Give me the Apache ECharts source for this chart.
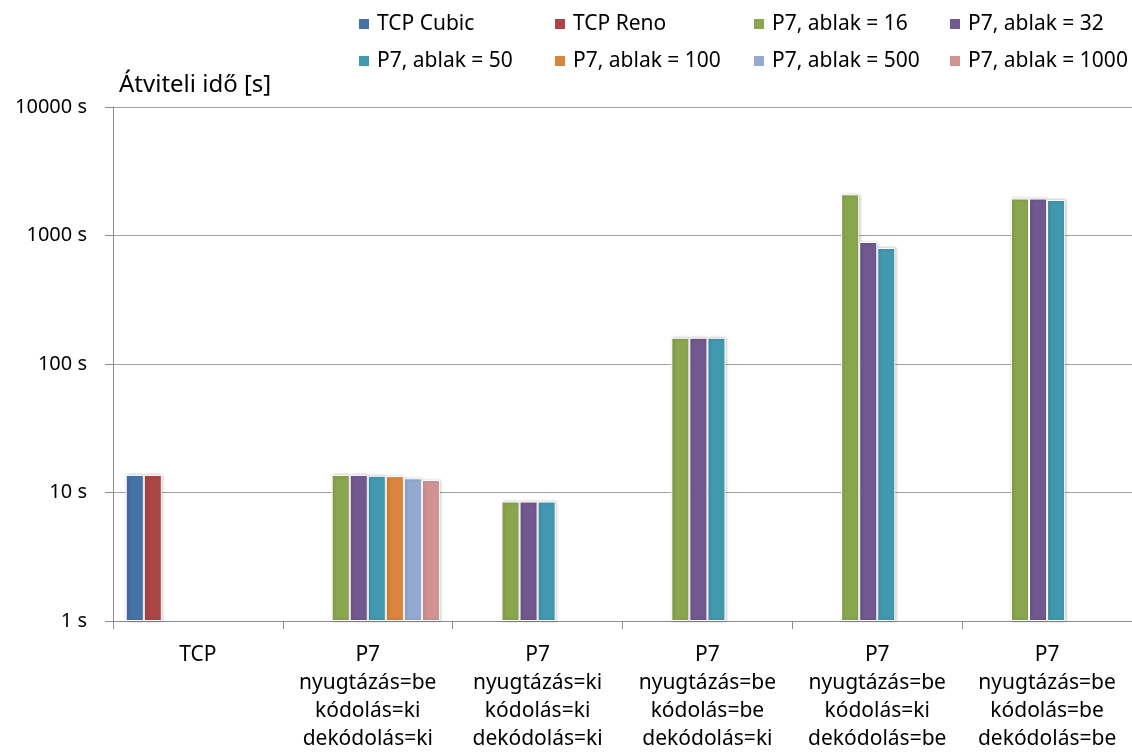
<!DOCTYPE html>
<html>
<head>
<meta charset="utf-8">
<script src="https://cdn.jsdelivr.net/npm/echarts@6/dist/echarts.min.js"></script>
<style>
  html, body { margin: 0; padding: 0; background: #fff; }
  #chart { width: 1132px; height: 754px; }
</style>
</head>
<body>
<div id="chart"></div>
<script>
const categories = [
  'TCP',
  'P7\nnyugtázás=be\nkódolás=ki\ndekódolás=ki',
  'P7\nnyugtázás=ki\nkódolás=ki\ndekódolás=ki',
  'P7\nnyugtázás=be\nkódolás=be\ndekódolás=ki',
  'P7\nnyugtázás=be\nkódolás=ki\ndekódolás=be',
  'P7\nnyugtázás=be\nkódolás=be\ndekódolás=be'
]

const seriesNames = [
  'TCP Cubic', 'TCP Reno', 'P7, ablak = 16', 'P7, ablak = 32',
  'P7, ablak = 50', 'P7, ablak = 100', 'P7, ablak = 500', 'P7, ablak = 1000'
]
const colors = ['#4572A7', '#AA4643', '#89A54E', '#71588F', '#4198AF', '#DB843D', '#93A9CF', '#D19392']

const tcpCubic = [13.7, '-', '-', '-', '-', '-']
const tcpReno = [13.7, '-', '-', '-', '-', '-']
const ablak16 = ['-', 13.7, 8.5, 160, 2090, 1940]
const ablak32 = ['-', 13.7, 8.5, 160, 890, 1940]
const ablak50 = ['-', 13.5, 8.5, 160, 800, 1890]
const ablak100 = ['-', 13.4, '-', '-', '-', '-']
const ablak500 = ['-', 12.9, '-', '-', '-', '-']
const ablak1000 = ['-', 12.5, '-', '-', '-', '-']

const yTicks = [1, 10, 100, 1000, 10000]

const allData = [tcpCubic, tcpReno, ablak16, ablak32, ablak50, ablak100, ablak500, ablak1000]
const FONT = 'Noto Sans'

const chart = echarts.init(document.getElementById('chart'))

// legend laid out as 4 columns of 2 rows
const legendCols = [[0, 4], [1, 5], [2, 6], [3, 7]]
const legendLeft = [357, 553, 752, 948]

const option = {
  animation: false,
  color: colors,
  legend: legendCols.map((idx, i) => ({
    orient: 'vertical',
    left: legendLeft[i],
    top: 10,
    itemGap: 9,
    itemWidth: 12,
    itemHeight: 12,
    icon: 'rect',
    padding: 0,
    data: idx.map(k => seriesNames[k]),
    textStyle: {
      fontFamily: FONT, fontSize: 21, color: '#000',
      lineHeight: 28, padding: [0, 0, 0, 2]
    }
  })),
  grid: { left: 113, right: 0, top: 107, bottom: 133 },
  xAxis: {
    type: 'category',
    data: categories,
    axisLine: { lineStyle: { color: '#8c8c8c', width: 1 } },
    axisTick: { show: true, length: 8, lineStyle: { color: '#8c8c8c' } },
    axisLabel: {
      interval: 0,
      margin: 20,
      fontFamily: FONT,
      fontSize: 21,
      lineHeight: 28,
      color: '#000'
    }
  },
  yAxis: {
    type: 'log',
    logBase: 10,
    min: yTicks[0],
    max: yTicks[yTicks.length - 1],
    name: 'Átviteli idő [s]',
    nameLocation: 'end',
    nameGap: 22,
    nameTextStyle: {
      fontFamily: FONT, fontSize: 24, color: '#000',
      align: 'left', verticalAlign: 'middle', padding: [0, 0, 0, 6]
    },
    axisLine: { show: true, lineStyle: { color: '#8c8c8c', width: 1 } },
    axisTick: { show: true, length: 8, lineStyle: { color: '#8c8c8c' } },
    minorTick: { show: false },
    splitLine: { show: true, lineStyle: { color: '#a0a0a0', width: 1 } },
    axisLabel: {
      margin: 26,
      fontFamily: FONT,
      fontSize: 20,
      color: '#000',
      formatter: v => v + ' s'
    }
  },
  series: seriesNames.map((name, i) => ({
    name: name,
    type: 'bar',
    data: allData[i],
    barGap: '0%',
    barCategoryGap: '15%',
    itemStyle: {
      color: colors[i],
      borderColor: '#fff',
      borderWidth: 1,
      shadowBlur: 3,
      shadowOffsetX: 1,
      shadowOffsetY: 0,
      shadowColor: 'rgba(0,0,0,0.25)'
    }
  }))
}

chart.setOption(option)
</script>
</body>
</html>
